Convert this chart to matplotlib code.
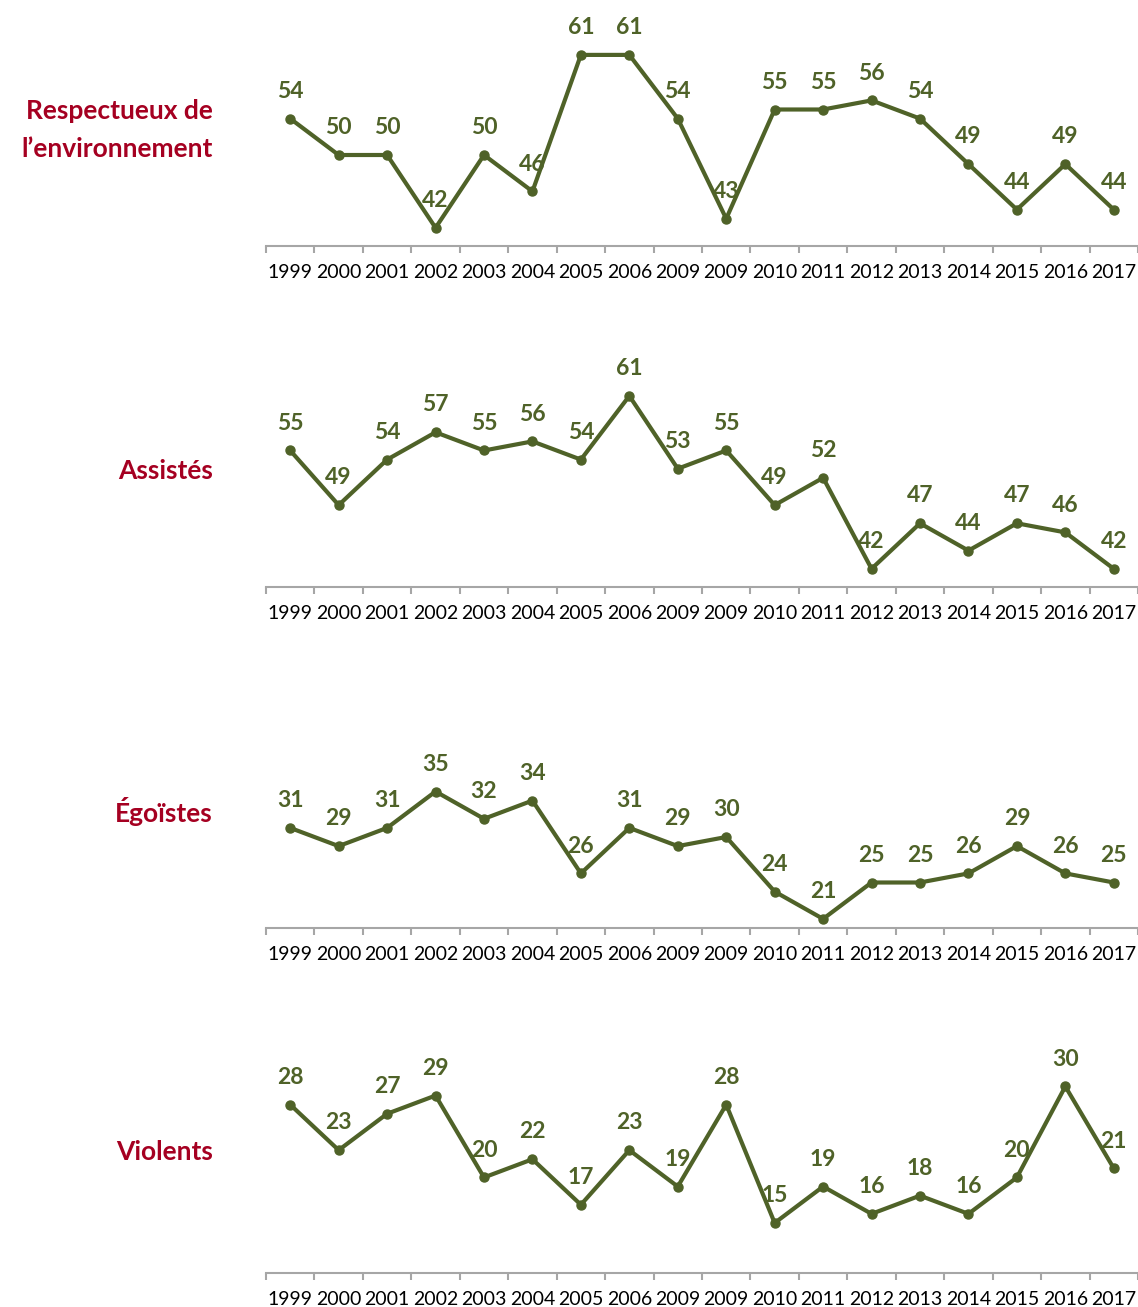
import numpy as np
import matplotlib.pyplot as plt
from matplotlib.ticker import FixedLocator

# years as printed on the chart (2009 appears twice)
years = ['1999', '2000', '2001', '2002', '2003', '2004', '2005', '2006', '2009',
         '2009', '2010', '2011', '2012', '2013', '2014', '2015', '2016', '2017']

titles = ['Respectueux de\nl\u2019environnement', 'Assistés', 'Égoïstes', 'Violents']

respectueux = [54, 50, 50, 42, 50, 46, 61, 61, 54, 43, 55, 55, 56, 54, 49, 44, 49, 44]
assistes = [55, 49, 54, 57, 55, 56, 54, 61, 53, 55, 49, 52, 42, 47, 44, 47, 46, 42]
egoistes = [31, 29, 31, 35, 32, 34, 26, 31, 29, 30, 24, 21, 25, 25, 26, 29, 26, 25]
violents = [28, 23, 27, 29, 20, 22, 17, 23, 19, 28, 15, 19, 16, 18, 16, 20, 30, 21]

series = [respectueux, assistes, egoistes, violents]
ymins = [40, 40, 20, 9.5]

line_color = '#4F6228'
title_color = '#A50021'
axis_color = '#A6A6A6'

W, H = 1138, 1307
fig = plt.figure(figsize=(W / 100, H / 100), dpi=100)

# layout in pixels
x0, x1 = 266, 1138
bottoms = [246, 587, 928, 1273]
title_y = [130, 471, 812, 1152]
ax_h = 230
px_per_unit = 9.1

n = len(years)
x = np.arange(n)

for vals, title, ymin, yb, ty in zip(series, titles, ymins, bottoms, title_y):
    ax = fig.add_axes([x0 / W, 1 - yb / H, (x1 - x0) / W, ax_h / H])
    ax.plot(x, vals, color=line_color, lw=3, marker='o', ms=6.5, clip_on=False, zorder=3)
    for xi, v in zip(x, vals):
        ax.annotate(str(v), (xi, v), xytext=(0, 15), textcoords='offset points',
                    ha='center', va='baseline', fontsize=16.5, fontweight='bold',
                    family='Lato', color=line_color, annotation_clip=False)
    ax.set_xlim(-0.5, n - 0.5)
    ax.set_ylim(ymin, ymin + ax_h / px_per_unit)

    for s in ['top', 'right', 'left']:
        ax.spines[s].set_visible(False)
    ax.spines['bottom'].set_color(axis_color)
    ax.spines['bottom'].set_linewidth(1.5)
    ax.set_yticks([])

    ax.set_xticks(x)
    ax.set_xticklabels(years, family='Lato', fontsize=14)
    ax.tick_params(axis='x', which='major', length=0, pad=13)
    ax.xaxis.set_minor_locator(FixedLocator(np.arange(n + 1) - 0.5))
    ax.tick_params(axis='x', which='minor', length=5, width=1.5, color=axis_color)

    fig.text(213 / W, 1 - ty / H, title,
             ha='right', va='center', fontsize=19, fontweight='bold',
             family='Lato', color=title_color, linespacing=1.68)

fig.savefig('out.png', dpi=100)
